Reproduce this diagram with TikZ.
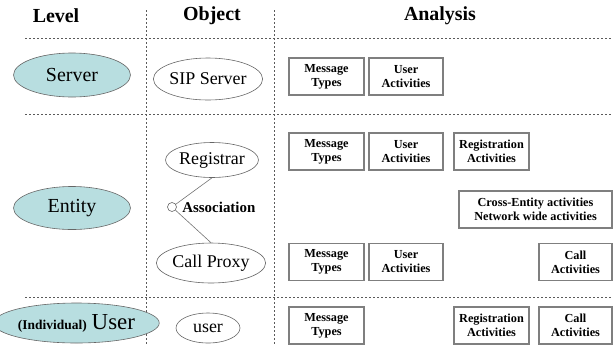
\documentclass[tikz,border=0pt]{standalone}
\usepackage{fontspec}
\setmainfont{Liberation Serif}
\usepackage{tikz}
\usetikzlibrary{shapes.geometric, positioning}

\definecolor{levelfill}{HTML}{B8DEE0}
\definecolor{boxgray}{HTML}{7F7F7F}
\definecolor{sepgray}{HTML}{5A5A5A}

\begin{document}
\begin{tikzpicture}[
    x=1bp, y=-1bp,
    every node/.style={align=center, text=black},
    header/.style={font=\fontsize{20}{22}\selectfont\bfseries},
    level/.style={ellipse, draw=gray!80!black, fill=levelfill, line width=0.6pt, inner sep=0pt, font=\fontsize{20}{22}\selectfont},
    object/.style={ellipse, draw=gray!80!black, fill=white, line width=0.6pt, inner sep=0pt, font=\fontsize{18}{20}\selectfont},
    analysis/.style={rectangle, draw=boxgray, line width=1.1pt, inner sep=0pt, minimum width=75bp, minimum height=37bp, font=\fontsize{12.3}{14}\selectfont\bfseries},
    sep/.style={dashed, dash pattern=on 2bp off 2bp, draw=sepgray, line width=0.6pt},
    link/.style={draw=gray!90!black, line width=0.6pt}
]
\useasboundingbox (0,0) rectangle (613,345);

% Separators
\draw [sep] (146,10) -- (146,345);
\draw [sep] (274,10) -- (274,345);
\draw [sep] (25,38) -- (613,38);
\draw [sep] (25,114) -- (613,114);
\draw [sep] (25,297) -- (613,297);

% Headers
\node (hlevel) [header] at (56,16) {Level};
\node (hobject) [header] at (212,16) {Object};
\node (hanalysis) [header] at (440,16) {Analysis};

% Levels
\node (server) [level, minimum width=117bp, minimum height=44bp] at (72,75) {Server};
\node (entity) [level, minimum width=117bp, minimum height=43bp] at (72,208) {Entity};
\node (user) [level, minimum width=127bp, minimum height=40bp] at (76.5,323) {{\fontsize{13.5}{14}\selectfont\bfseries (Individual)} {\fontsize{23}{24}\selectfont User}};

% Objects
\node (sip) [object, minimum width=81bp, minimum height=42bp] at (208,79) {SIP Server};
\node (reg) [object, minimum width=81bp, minimum height=35bp] at (212,160) {Registrar};
\node (proxy) [object, minimum width=84bp, minimum height=40bp] at (211,263) {Call Proxy};
\node (uobj) [object, minimum width=64bp, minimum height=30bp] at (208,328) {user};
\node (assoc) [circle, draw=gray!80!black, fill=white, line width=0.6pt, minimum size=9bp, inner sep=0pt] at (172,207) {};
\node (assoclabel) [right=2bp of assoc, font=\fontsize{15}{16}\selectfont\bfseries] {Association};

\draw [link] (reg.south) -- (assoc);
\draw [link] (assoc) -- (proxy.north);

% Analysis: server
\node (smsg) [analysis] at (326.5,76.5) {Message\\Types};
\node (susr) [analysis, minimum width=74bp] at (406,76.5) {User\\Activities};

% Analysis: entity
\node (emsg) [analysis] at (326.5,151.5) {Message\\Types};
\node (eusr) [analysis, minimum width=74bp] at (406,151.5) {User\\Activities};
\node (ereg) [analysis] at (491.5,151.5) {Registration\\Activities};
\node (ecross) [analysis, minimum width=153bp] at (535.5,209.5) {Cross-Entity activities\\Network wide activities};
\node (pmsg) [analysis] at (326.5,262) {Message\\Types};
\node (pusr) [analysis, minimum width=74bp] at (406,262) {User\\Activities};
\node (pcall) [analysis, minimum width=73bp] at (575.5,262) {Call\\Activities};

% Analysis: user
\node (umsg) [analysis] at (326.5,325.5) {Message\\Types};
\node (ureg) [analysis] at (491.5,325.5) {Registration\\Activities};
\node (ucall) [analysis, minimum width=73bp] at (575.5,325.5) {Call\\Activities};

\end{tikzpicture}
\end{document}
